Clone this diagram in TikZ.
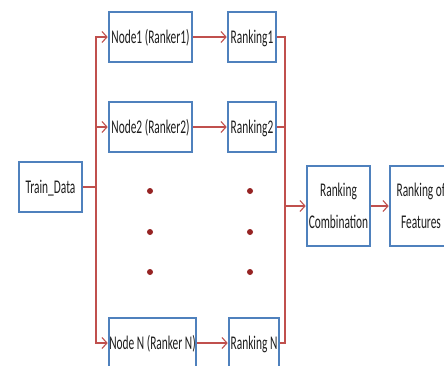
\documentclass[tikz,border=0pt]{standalone}
\usepackage{graphicx}
\usepackage{fontspec}
\setmainfont{Carlito}
\usetikzlibrary{arrows.meta}
\definecolor{boxblue}{RGB}{79,129,189}
\definecolor{linkred}{RGB}{192,80,77}
\definecolor{dotred}{RGB}{150,35,35}
\definecolor{ink}{RGB}{30,30,30}
% labels are set in tall, narrow lettering
\newcommand\lbl[1]{\scalebox{1}[1.7]{\begin{tabular}{@{}c@{}}#1\end{tabular}}}
\tikzset{
  blk/.style={draw=boxblue, line width=2.6pt, fill=white, inner sep=0pt,
    align=center, text=ink, font=\fontsize{11.4}{18.8}\selectfont},
  link/.style={draw=linkred, line width=1.1pt},
  arr/.style={link, -{Straight Barb[length=5pt,width=11pt,line width=1.1pt]}},
  dotmark/.style={circle, fill=dotred, inner sep=0pt, minimum size=6pt}
}
\begin{document}
\begin{tikzpicture}[x=1pt,y=-1pt]
\useasboundingbox (0,0) rectangle (444,365);
\fill[white] (0,0) rectangle (444,365);

% data source
\node[blk, minimum width=63pt, minimum height=50pt] (td) at (50.5,187) {\lbl{Train\_Data}};

% rankers
\node[blk, minimum width=83pt, minimum height=50pt] (n1) at (150.5,37) {\lbl{Node1 (Ranker1)}};
\node[blk, minimum width=83pt, minimum height=50pt] (n2) at (150.5,127) {\lbl{Node2 (Ranker2)}};
\node[blk, minimum width=87pt, minimum height=50pt] (nN) at (152.5,343) {\lbl{Node N (Ranker N)}};

% per-ranker rankings
\node[blk, minimum width=48pt, minimum height=50pt] (r1) at (252,37) {\lbl{Ranking1}};
\node[blk, minimum width=48pt, minimum height=50pt] (r2) at (252,127) {\lbl{Ranking2}};
\node[blk, minimum width=50pt, minimum height=50pt] (rN) at (254,343) {\lbl{Ranking N}};

% aggregation
\node[blk, minimum width=63pt, minimum height=80pt] (rc) at (338.5,206) {\lbl{Ranking\\Combination}};
\node[blk, minimum width=62pt, minimum height=80pt] (rf) at (421,206) {\lbl{Ranking of\\Features}};

% ellipsis dots
\foreach \y/\k in {191/a,232/b,272/c}{
  \node[dotmark] (dl\k) at (150,\y) {};
  \node[dotmark] (dr\k) at (250,\y) {};
}

% fan-out
\coordinate (split) at (96,187);
\draw[link] (td.east) -- (split);
\draw[arr] (split) |- (n1.west);
\draw[arr] (split) |- (n2.west);
\draw[arr] (split) |- (nN.west);

\draw[arr] (n1.east) -- (r1.west);
\draw[arr] (n2.east) -- (r2.west);
\draw[arr] (nN.east) -- (rN.west);

% fan-in
\coordinate (merge) at (285,206);
\draw[link] (r1.east) -| (merge);
\draw[link] (r2.east) -| (merge);
\draw[link] (rN.east) -| (merge);
\draw[arr] (merge) -- (rc.west);
\draw[arr] (rc.east) -- (rf.west);
\end{tikzpicture}
\end{document}
